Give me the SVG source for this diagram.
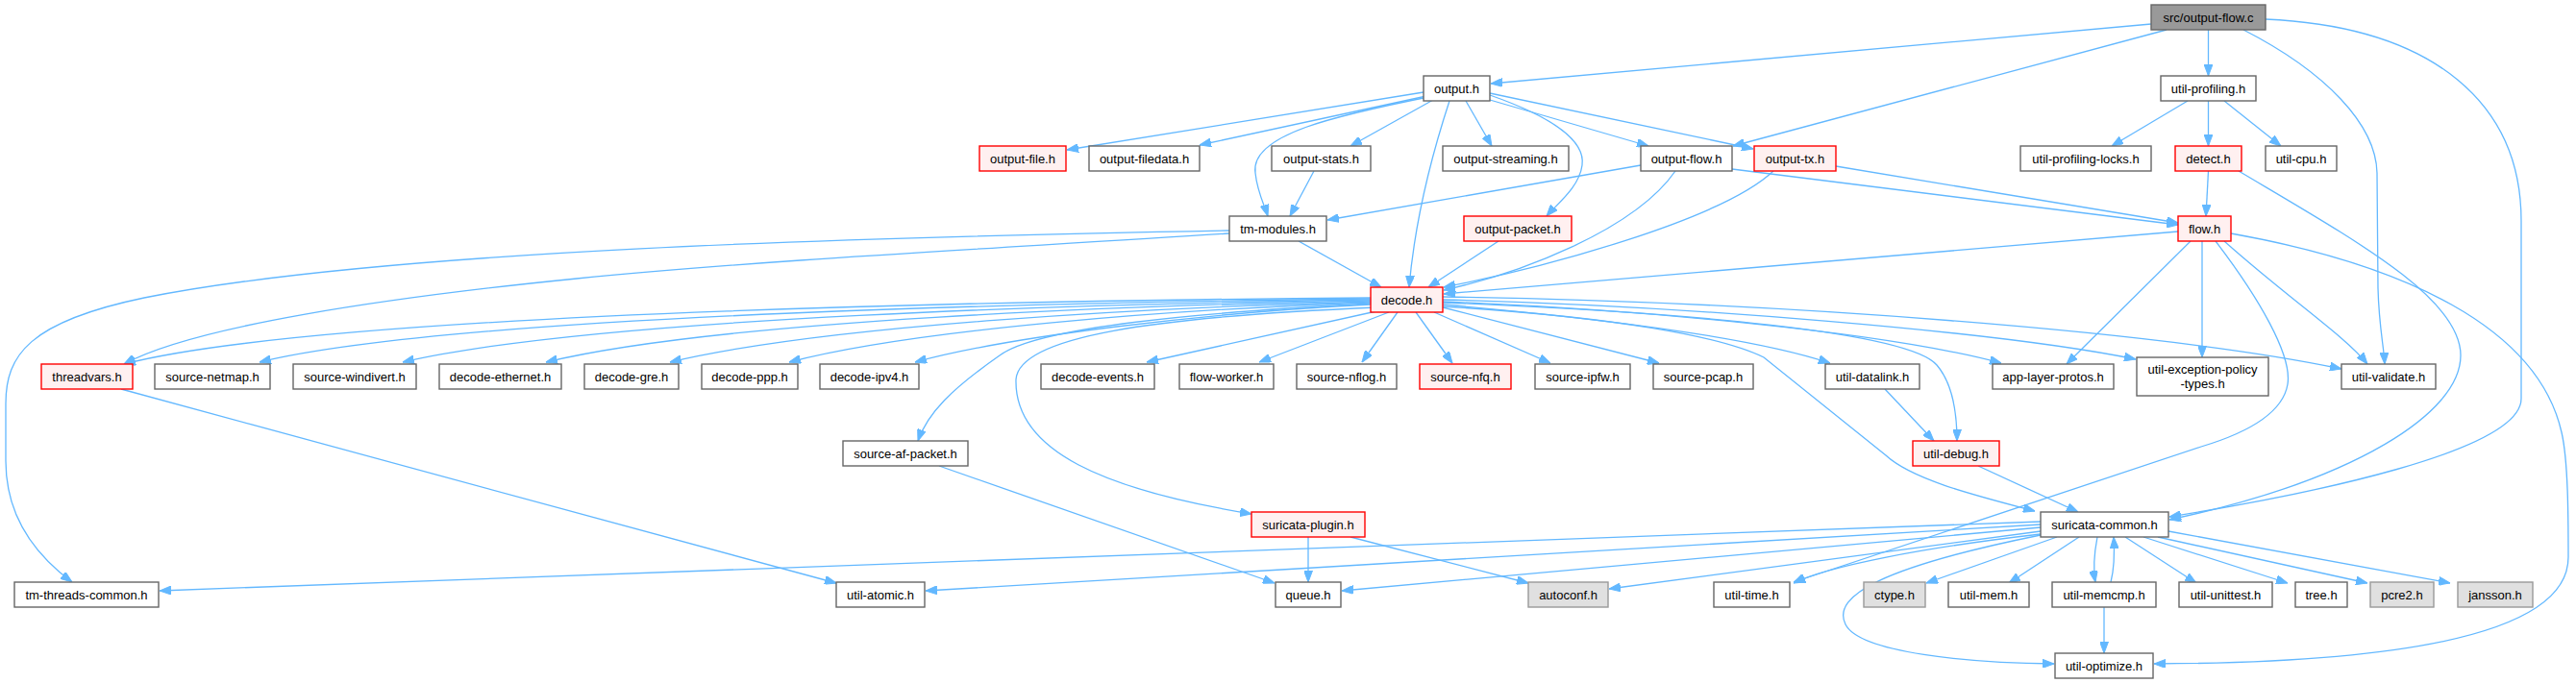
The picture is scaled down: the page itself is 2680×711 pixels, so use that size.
<svg xmlns="http://www.w3.org/2000/svg" width="2680" height="711" viewBox="0 0 2680 711">
<defs>
<marker id="a" viewBox="0 0 12 9" refX="12" refY="4.5" markerWidth="12" markerHeight="9" orient="auto" markerUnits="userSpaceOnUse"><path d="M0,0 L12,4.5 L0,9 z" fill="#63b8ff" stroke="#63b8ff" stroke-width="1"/></marker>
</defs>
<style>
rect{stroke-width:1.4}
.n rect{fill:#ffffff;stroke:#666666}
.r rect{fill:#fff0f0;stroke:#ff0000}
.g rect{fill:#999999;stroke:#666666}
.x rect{fill:#e0e0e0;stroke:#999999}
text{font-family:"Liberation Sans",Arial,sans-serif;font-size:13px;text-anchor:middle;fill:#000000}
#edges path{fill:none;stroke:#63b8ff;stroke-width:1.3;marker-end:url(#a)}
</style>
<rect x="0" y="0" width="2680" height="711" fill="#ffffff"/>
<g id="edges">
<path d="M2238,25 L1551,87"/>
<path d="M2254,31 L1803,152"/>
<path d="M2297.5,31 L2297.5,79"/>
<path d="M2334,31 C2420,75 2472,130 2473,180 L2474,300 C2475,340 2480,360 2481,379"/>
<path d="M2357,20 C2535,28 2623,110 2623,230 L2623,415 C2623,470 2400,515 2257,538"/>
<path d="M1481,96 L1110,156"/>
<path d="M1484,100 L1248,151"/>
<path d="M1491,100 C1390,120 1300,140 1306,180 C1308,200 1316,215 1319,225"/>
<path d="M1491,104 L1405,152"/>
<path d="M1508,105 C1490,160 1472,230 1466,299"/>
<path d="M1525,105 L1552,152"/>
<path d="M1550,99 C1610,120 1650,145 1646,172 C1643,195 1620,212 1609,225"/>
<path d="M1550,104 L1715,152"/>
<path d="M1550,97 L1824,155"/>
<path d="M1367,178 L1342,225"/>
<path d="M1707,172 L1381,229"/>
<path d="M1743,178 C1700,240 1580,285 1502,302"/>
<path d="M1845,178 C1790,230 1600,280 1502,299"/>
<path d="M1910,173 L2266,232"/>
<path d="M1802,176 L2266,234"/>
<path d="M1559,251 L1486,299"/>
<path d="M1351,251 L1437,299"/>
<path d="M1279,243 C1050,258 800,270 600,290 C400,310 200,340 129,379"/>
<path d="M1279,240 C900,247 400,260 150,310 C30,335 6,370 6,420 L6,480 C6,540 40,580 75,606"/>
<path d="M1426,310 C1150,312 350,322 129,379"/>
<path d="M1426,311 C1150,314 480,326 270,377"/>
<path d="M1426,312 C1150,316 620,330 419,377"/>
<path d="M1426,313 C1180,318 750,333 568,377"/>
<path d="M1426,314 C1200,320 860,338 697,377"/>
<path d="M1426,315 C1220,322 950,343 821,377"/>
<path d="M1426,317 C1250,326 1050,350 952,377"/>
<path d="M1432,324 L1193,377"/>
<path d="M1445,325 L1310,377"/>
<path d="M1454,325 L1417,377"/>
<path d="M1473,325 L1511,378"/>
<path d="M1492,325 L1613,378"/>
<path d="M1501,320 L1726,378"/>
<path d="M1501,317 C1650,330 1820,350 1904,378"/>
<path d="M1501,314 C1700,322 1960,345 2082,378"/>
<path d="M1501,312 C1750,318 2080,345 2222,374"/>
<path d="M1501,309 C1850,314 2250,345 2436,384"/>
<path d="M1501,315 C1750,325 1985,345 2015,380 C2032,400 2036,430 2036,459"/>
<path d="M1501,319 C1680,330 1790,350 1835,372 L1962,474 C1990,500 2060,517 2117,532"/>
<path d="M1426,316 C1250,325 1080,340 1040,370 C990,405 965,430 955,459"/>
<path d="M1432,320 C1200,330 1060,350 1057,395 C1055,470 1150,510 1302,535"/>
<path d="M2266,241 L1502,306"/>
<path d="M2279,251 L2150,379"/>
<path d="M2291,251 L2291,372"/>
<path d="M2305,251 C2350,310 2385,370 2380,400 C2375,430 2340,450 2290,465 L1866,606"/>
<path d="M2314,251 C2380,310 2440,350 2463,379"/>
<path d="M2321,243 C2500,275 2640,340 2665,450 C2672,480 2672,540 2672,580 C2672,660 2500,690 2241,691"/>
<path d="M2297.5,178 L2295,225"/>
<path d="M2329,178 C2450,250 2560,310 2560,370 C2560,430 2450,500 2257,541"/>
<path d="M2276,105 L2197,152"/>
<path d="M2297.5,105 L2297.5,152"/>
<path d="M2314,105 L2373,152"/>
<path d="M126,405 C400,480 700,560 870,607"/>
<path d="M977,485 L1326,607"/>
<path d="M1361,559 L1361,606"/>
<path d="M1405,559 L1590,607"/>
<path d="M1961,405 L2012,459"/>
<path d="M2058,485 L2162,533"/>
<path d="M2123,543 L166,615"/>
<path d="M2123,546 L963,615"/>
<path d="M2123,549 L1396,615"/>
<path d="M2123,553 L1674,613"/>
<path d="M2123,556 C2000,570 1900,590 1866,607"/>
<path d="M2140,559 L2004,607"/>
<path d="M2163,559 L2090,607"/>
<path d="M2182,559 C2178,580 2178,595 2180,606"/>
<path d="M2196,606 C2200,590 2200,575 2199,559"/>
<path d="M2211,559 L2285,607"/>
<path d="M2230,559 L2380,607"/>
<path d="M2245,559 L2463,607"/>
<path d="M2256,553 L2549,607"/>
<path d="M2123,557 C1960,590 1905,620 1920,650 C1935,680 2050,690 2137,691"/>
<path d="M2189,632 L2189,680"/>
</g>
<g id="src_output_flow_c" class="g"><rect x="2238" y="5" width="119" height="26"/><text x="2297.5" y="22.5">src/output-flow.c</text></g>
<g id="output_h" class="n"><rect x="1481" y="79" width="69" height="26"/><text x="1515.5" y="96.5">output.h</text></g>
<g id="util_profiling_h" class="n"><rect x="2248" y="79" width="99" height="26"/><text x="2297.5" y="96.5">util-profiling.h</text></g>
<g id="output_file_h" class="r"><rect x="1019" y="152" width="90" height="26"/><text x="1064" y="169.5">output-file.h</text></g>
<g id="output_filedata_h" class="n"><rect x="1133" y="152" width="115" height="26"/><text x="1190.5" y="169.5">output-filedata.h</text></g>
<g id="output_stats_h" class="n"><rect x="1323" y="152" width="103" height="26"/><text x="1374.5" y="169.5">output-stats.h</text></g>
<g id="output_streaming_h" class="n"><rect x="1501" y="152" width="131" height="26"/><text x="1566.5" y="169.5">output-streaming.h</text></g>
<g id="output_flow_h" class="n"><rect x="1707" y="152" width="95" height="26"/><text x="1754.5" y="169.5">output-flow.h</text></g>
<g id="output_tx_h" class="r"><rect x="1825" y="152" width="85" height="26"/><text x="1867.5" y="169.5">output-tx.h</text></g>
<g id="util_profiling_locks_h" class="n"><rect x="2102" y="152" width="136" height="26"/><text x="2170" y="169.5">util-profiling-locks.h</text></g>
<g id="detect_h" class="r"><rect x="2263" y="152" width="69" height="26"/><text x="2297.5" y="169.5">detect.h</text></g>
<g id="util_cpu_h" class="n"><rect x="2357" y="152" width="74" height="26"/><text x="2394" y="169.5">util-cpu.h</text></g>
<g id="tm_modules_h" class="n"><rect x="1279" y="225" width="101" height="26"/><text x="1329.5" y="242.5">tm-modules.h</text></g>
<g id="output_packet_h" class="r"><rect x="1523" y="225" width="112" height="26"/><text x="1579" y="242.5">output-packet.h</text></g>
<g id="flow_h" class="r"><rect x="2266" y="225" width="55" height="26"/><text x="2293.5" y="242.5">flow.h</text></g>
<g id="decode_h" class="r"><rect x="1426" y="299" width="75" height="26"/><text x="1463.5" y="316.5">decode.h</text></g>
<g id="threadvars_h" class="r"><rect x="43" y="379" width="95" height="26"/><text x="90.5" y="396.5">threadvars.h</text></g>
<g id="source_netmap_h" class="n"><rect x="161" y="379" width="120" height="26"/><text x="221" y="396.5">source-netmap.h</text></g>
<g id="source_windivert_h" class="n"><rect x="305" y="379" width="128" height="26"/><text x="369" y="396.5">source-windivert.h</text></g>
<g id="decode_ethernet_h" class="n"><rect x="457" y="379" width="127" height="26"/><text x="520.5" y="396.5">decode-ethernet.h</text></g>
<g id="decode_gre_h" class="n"><rect x="608" y="379" width="98" height="26"/><text x="657" y="396.5">decode-gre.h</text></g>
<g id="decode_ppp_h" class="n"><rect x="730" y="379" width="100" height="26"/><text x="780" y="396.5">decode-ppp.h</text></g>
<g id="decode_ipv4_h" class="n"><rect x="853" y="379" width="103" height="26"/><text x="904.5" y="396.5">decode-ipv4.h</text></g>
<g id="decode_events_h" class="n"><rect x="1083" y="379" width="118" height="26"/><text x="1142" y="396.5">decode-events.h</text></g>
<g id="flow_worker_h" class="n"><rect x="1227" y="379" width="98" height="26"/><text x="1276" y="396.5">flow-worker.h</text></g>
<g id="source_nflog_h" class="n"><rect x="1349" y="379" width="104" height="26"/><text x="1401" y="396.5">source-nflog.h</text></g>
<g id="source_nfq_h" class="r"><rect x="1477" y="379" width="95" height="26"/><text x="1524.5" y="396.5">source-nfq.h</text></g>
<g id="source_ipfw_h" class="n"><rect x="1597" y="379" width="99" height="26"/><text x="1646.5" y="396.5">source-ipfw.h</text></g>
<g id="source_pcap_h" class="n"><rect x="1720" y="379" width="104" height="26"/><text x="1772" y="396.5">source-pcap.h</text></g>
<g id="util_datalink_h" class="n"><rect x="1899" y="379" width="98" height="26"/><text x="1948" y="396.5">util-datalink.h</text></g>
<g id="app_layer_protos_h" class="n"><rect x="2073" y="379" width="126" height="26"/><text x="2136" y="396.5">app-layer-protos.h</text></g>
<g id="util_exception_policy_types_h" class="n"><rect x="2223" y="372" width="137" height="40"/><text x="2291.5" y="388.5">util-exception-policy</text><text x="2291.5" y="403.5">-types.h</text></g>
<g id="util_validate_h" class="n"><rect x="2436" y="379" width="98" height="26"/><text x="2485" y="396.5">util-validate.h</text></g>
<g id="source_af_packet_h" class="n"><rect x="877" y="459" width="130" height="26"/><text x="942" y="476.5">source-af-packet.h</text></g>
<g id="util_debug_h" class="r"><rect x="1990" y="459" width="90" height="26"/><text x="2035" y="476.5">util-debug.h</text></g>
<g id="suricata_plugin_h" class="r"><rect x="1302" y="533" width="118" height="26"/><text x="1361" y="550.5">suricata-plugin.h</text></g>
<g id="suricata_common_h" class="n"><rect x="2123" y="533" width="133" height="26"/><text x="2189.5" y="550.5">suricata-common.h</text></g>
<g id="tm_threads_common_h" class="n"><rect x="15" y="606" width="150" height="26"/><text x="90" y="623.5">tm-threads-common.h</text></g>
<g id="util_atomic_h" class="n"><rect x="870" y="606" width="92" height="26"/><text x="916" y="623.5">util-atomic.h</text></g>
<g id="queue_h" class="n"><rect x="1327" y="606" width="68" height="26"/><text x="1361" y="623.5">queue.h</text></g>
<g id="autoconf_h" class="x"><rect x="1590" y="606" width="83" height="26"/><text x="1631.5" y="623.5">autoconf.h</text></g>
<g id="util_time_h" class="n"><rect x="1783" y="606" width="79" height="26"/><text x="1822.5" y="623.5">util-time.h</text></g>
<g id="ctype_h" class="x"><rect x="1939" y="606" width="64" height="26"/><text x="1971" y="623.5">ctype.h</text></g>
<g id="util_mem_h" class="n"><rect x="2027" y="606" width="84" height="26"/><text x="2069" y="623.5">util-mem.h</text></g>
<g id="util_memcmp_h" class="n"><rect x="2135" y="606" width="108" height="26"/><text x="2189" y="623.5">util-memcmp.h</text></g>
<g id="util_unittest_h" class="n"><rect x="2267" y="606" width="97" height="26"/><text x="2315.5" y="623.5">util-unittest.h</text></g>
<g id="tree_h" class="n"><rect x="2388" y="606" width="54" height="26"/><text x="2415" y="623.5">tree.h</text></g>
<g id="pcre2_h" class="x"><rect x="2466" y="606" width="66" height="26"/><text x="2499" y="623.5">pcre2.h</text></g>
<g id="jansson_h" class="x"><rect x="2557" y="606" width="78" height="26"/><text x="2596" y="623.5">jansson.h</text></g>
<g id="util_optimize_h" class="n"><rect x="2138" y="680" width="102" height="26"/><text x="2189" y="697.5">util-optimize.h</text></g>
</svg>
